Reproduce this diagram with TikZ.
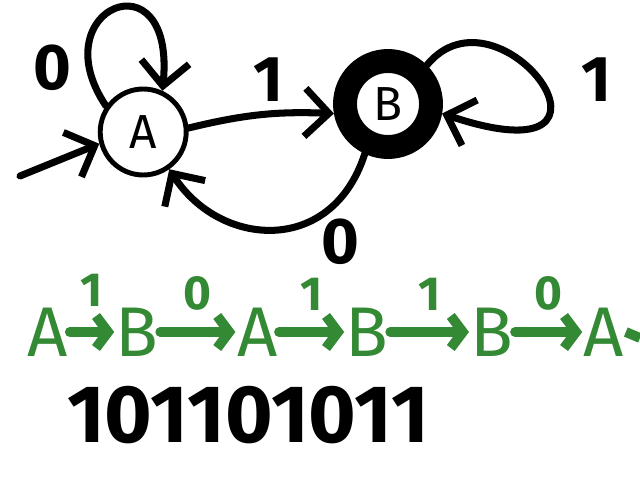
\documentclass[tikz,border=0pt]{standalone}
\usepackage{fontspec}
\setsansfont{Fira Sans}
\usetikzlibrary{arrows.meta}
\definecolor{chalkgreen}{RGB}{52,137,52}
\tikzset{
  state/.style={draw,circle,line width=3.5pt,minimum size=2.15cm,inner sep=0pt,
    font=\fontsize{34}{34}\selectfont\sffamily},
  accept/.style={state,line width=17pt,minimum size=2.15cm},
  edge/.style={line width=5pt,line cap=round,-{Straight Barb[length=6mm,width=12mm]}},
  lbl/.style={font=\fontsize{46}{46}\selectfont\sffamily\bfseries},
  run/.style={text=chalkgreen,inner sep=1pt,font=\fontsize{50}{50}\selectfont\sffamily},
  runedge/.style={draw=chalkgreen,line width=7pt,line cap=round,
    -{Straight Barb[length=3mm,width=8mm]}},
  runlbl/.style={text=chalkgreen,font=\fontsize{34}{34}\selectfont\sffamily\bfseries},
}
\begin{document}
\begin{tikzpicture}
\useasboundingbox (0,0) rectangle (16,12);
% automat
\node[state] (A) at (3.58,8.7) {A};
\node[accept] (B) at (9.7,9.4) {B};
\coordinate (start) at (0.5,7.6);
\draw[edge] (start) -- (A.195);
\draw[edge] (A.145) .. controls (1.0,11.8) and (4.4,13.2) .. (A.65);
\draw[edge] (A.5) to[bend left=8] (B.190);
\draw[edge] (B.45) .. controls (12.5,12.6) and (16.3,7.4) .. (B.-10);
\draw[edge] (B.245) .. controls (8.3,5.6) and (5.5,5.8) .. (A.-55);
\node[lbl] (l0) at (1.3,10.3) {0};
\node[lbl] (l1) at (6.7,10.0) {1};
\node[lbl] (l2) at (14.9,10.0) {1};
\node[lbl] (l3) at (8.5,5.95) {0};
% przebieg
\node[run] (r1) at (1.2,3.7) {A};
\node[run] (r2) at (3.43,3.7) {B};
\node[run] (r3) at (6.43,3.7) {A};
\node[run] (r4) at (9.18,3.7) {B};
\node[run] (r5) at (12.3,3.7) {B};
\node[run] (r6) at (15.1,3.7) {A};
\coordinate (cut) at (16,3.55);
\draw[runedge] (r1) -- (r2) node[runlbl,midway,above=4mm] (e1) {1};
\draw[runedge] (r2) -- (r3) node[runlbl,midway,above=3mm] (e2) {0};
\draw[runedge] (r3) -- (r4) node[runlbl,midway,above=3mm] (e3) {1};
\draw[runedge] (r4) -- (r5) node[runlbl,midway,above=3mm] (e4) {1};
\draw[runedge] (r5) -- (r6) node[runlbl,midway,above=3mm] (e5) {0};
\draw[draw=chalkgreen,line width=7pt] (r6.east) -- (cut);
\node[font=\fontsize{58}{58}\selectfont\sffamily\bfseries] (word) at (6.2,1.63) {101101011};
\end{tikzpicture}
\end{document}
